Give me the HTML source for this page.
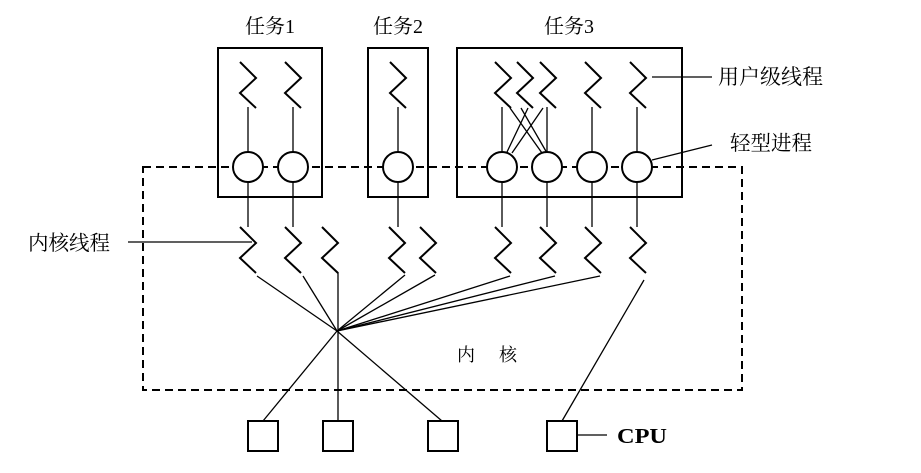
<!DOCTYPE html>
<html><head><meta charset="utf-8"><style>
html,body{margin:0;padding:0;background:#fff;}
svg{display:block;}
text{font-family:"Liberation Serif","Noto Serif CJK SC","Noto Sans CJK SC",serif;fill:#000;}
</style></head><body>
<svg width="921" height="473" viewBox="0 0 921 473" xmlns="http://www.w3.org/2000/svg">
<defs>
<path id="uz" d="M0,0 L16,16 L0,31 L16,46" fill="none" stroke="#000" stroke-width="2"/>
</defs>
<rect x="143" y="167" width="599" height="223" fill="none" stroke="#000" stroke-width="2" stroke-dasharray="8,5"/>
<rect x="218" y="48" width="104" height="149" fill="none" stroke="#000" stroke-width="2"/>
<rect x="368" y="48" width="60" height="149" fill="none" stroke="#000" stroke-width="2"/>
<rect x="457" y="48" width="225" height="149" fill="none" stroke="#000" stroke-width="2"/>
<g>
<use href="#uz" x="240" y="62"/><use href="#uz" x="285" y="62"/><use href="#uz" x="390" y="62"/>
<use href="#uz" x="495" y="62"/><use href="#uz" x="517" y="62"/><use href="#uz" x="540" y="62"/>
<use href="#uz" x="585" y="62"/><use href="#uz" x="630" y="62"/>
</g>
<g stroke="#000" stroke-width="1.3" fill="none">
<line x1="248" y1="107" x2="248" y2="152"/><line x1="293" y1="107" x2="293" y2="152"/>
<line x1="398" y1="107" x2="398" y2="152"/>
<line x1="502" y1="107" x2="502" y2="152"/><line x1="547" y1="107" x2="547" y2="152"/>
<line x1="592" y1="107" x2="592" y2="152"/><line x1="637" y1="107" x2="637" y2="152"/>
<line x1="510" y1="108" x2="542" y2="153"/><line x1="521" y1="108" x2="547" y2="153"/>
<line x1="528" y1="108" x2="507" y2="152"/><line x1="543" y1="108" x2="512" y2="153"/>
<line x1="248" y1="182" x2="248" y2="227"/><line x1="293" y1="182" x2="293" y2="227"/>
<line x1="398" y1="182" x2="398" y2="227"/>
<line x1="502" y1="182" x2="502" y2="227"/><line x1="547" y1="182" x2="547" y2="227"/>
<line x1="592" y1="182" x2="592" y2="227"/><line x1="637" y1="182" x2="637" y2="227"/>
<line x1="257" y1="276" x2="337" y2="331"/><line x1="303" y1="276" x2="337" y2="331"/>
<line x1="338" y1="272" x2="338" y2="421"/>
<line x1="405" y1="275" x2="337" y2="331"/><line x1="435" y1="275" x2="337" y2="331"/>
<line x1="510" y1="276" x2="337" y2="331"/><line x1="555" y1="276" x2="337" y2="331"/>
<line x1="600" y1="276" x2="337" y2="331"/>
<line x1="337" y1="331" x2="263" y2="421"/><line x1="337" y1="331" x2="442" y2="421"/>
<line x1="644" y1="280" x2="562" y2="421"/>
<line x1="652" y1="77" x2="712" y2="77"/>
<line x1="652" y1="160" x2="712" y2="145"/>
<line x1="128" y1="242" x2="252" y2="242"/>
<line x1="577" y1="435" x2="607" y2="435"/>
</g>
<g fill="#fff" stroke="#000" stroke-width="2">
<circle cx="248" cy="167" r="15"/><circle cx="293" cy="167" r="15"/>
<circle cx="398" cy="167" r="15"/>
<circle cx="502" cy="167" r="15"/><circle cx="547" cy="167" r="15"/>
<circle cx="592" cy="167" r="15"/><circle cx="637" cy="167" r="15"/>
</g>
<g>
<use href="#uz" x="240" y="227"/><use href="#uz" x="285" y="227"/><use href="#uz" x="322" y="227"/>
<use href="#uz" x="389" y="227"/><use href="#uz" x="420" y="227"/>
<use href="#uz" x="495" y="227"/><use href="#uz" x="540" y="227"/>
<use href="#uz" x="585" y="227"/><use href="#uz" x="630" y="227"/>
</g>
<g fill="none" stroke="#000" stroke-width="2">
<rect x="248" y="421" width="30" height="30"/><rect x="323" y="421" width="30" height="30"/>
<rect x="428" y="421" width="30" height="30"/><rect x="547" y="421" width="30" height="30"/>
</g>
<text x="245" y="33" font-size="20">任务1</text>
<text x="373" y="33" font-size="20">任务2</text>
<text x="544" y="33" font-size="20">任务3</text>
<text x="718" y="84" font-size="21">用户级线程</text>
<text x="730" y="150" font-size="20.5">轻型进程</text>
<text x="28" y="250" font-size="20.5">内核线程</text>
<text x="457" y="361" font-size="18">内</text>
<text x="499" y="361" font-size="18">核</text>
<text x="617" y="443" font-size="21" font-weight="bold" textLength="50" lengthAdjust="spacingAndGlyphs">CPU</text>
</svg>
</body></html>
